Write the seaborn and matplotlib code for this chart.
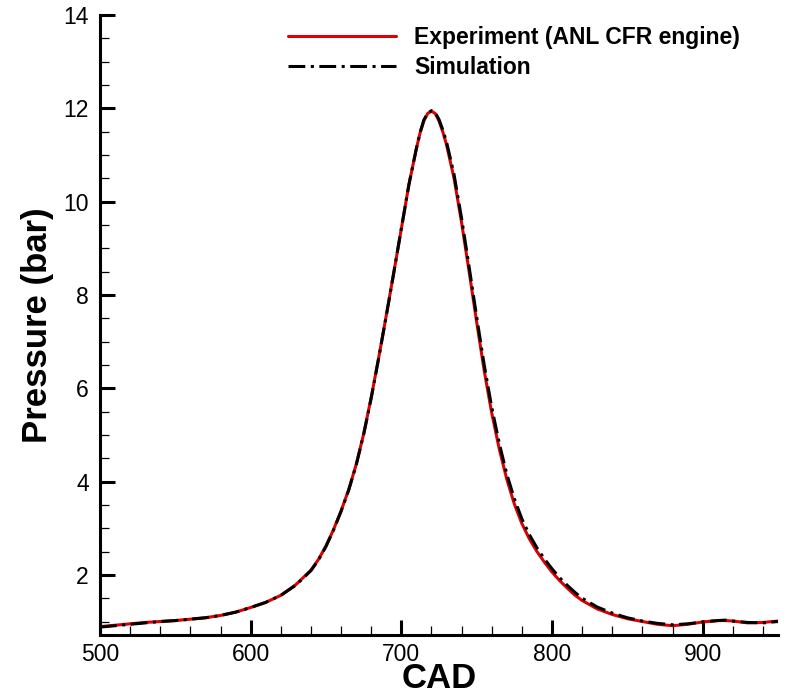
import matplotlib
matplotlib.use("Agg")
import matplotlib.pyplot as plt
import matplotlib.ticker as ticker
import seaborn as sns
import pandas as pd

sns.set_theme(style="ticks")
plt.rcParams["font.family"] = ["Liberation Sans", "DejaVu Sans"]
plt.rcParams["text.color"] = "black"
plt.rcParams["axes.labelcolor"] = "black"

# Pressure traces (CAD vs bar)
cad = [500, 510, 520, 530, 540, 550, 560, 570, 580, 590, 600, 610, 620, 630,
       640, 645, 650, 655, 660, 665, 670, 675, 680, 685, 690, 695, 700, 705,
       710, 712.5, 715, 717.5, 720, 722.5, 725, 727.5, 730, 735, 740, 745,
       750, 755, 760, 765, 770, 775, 780, 785, 790, 795, 800, 805, 810, 815,
       820, 830, 840, 850, 860, 870, 880, 890, 900, 910, 915, 920, 930, 940,
       950]
p_exp = [0.89, 0.92, 0.95, 0.98, 1.00, 1.02, 1.05, 1.08, 1.13, 1.20, 1.30,
         1.41, 1.56, 1.79, 2.10, 2.33, 2.62, 2.97, 3.37, 3.82, 4.36, 5.02,
         5.80, 6.66, 7.56, 8.48, 9.42, 10.36, 11.14, 11.48, 11.74, 11.89,
         11.94, 11.89, 11.73, 11.50, 11.22, 10.50, 9.55, 8.50, 7.42, 6.38,
         5.47, 4.70, 4.05, 3.52, 3.10, 2.77, 2.50, 2.27, 2.06, 1.88, 1.72,
         1.57, 1.45, 1.27, 1.15, 1.06, 1.00, 0.94, 0.91, 0.94, 0.99, 1.02,
         1.02, 1.01, 0.97, 0.98, 1.01]
p_sim = [0.88, 0.91, 0.94, 0.97, 1.00, 1.02, 1.05, 1.08, 1.13, 1.20, 1.30,
         1.41, 1.56, 1.78, 2.09, 2.32, 2.61, 2.96, 3.36, 3.81, 4.35, 5.01,
         5.79, 6.65, 7.55, 8.48, 9.42, 10.36, 11.14, 11.49, 11.75, 11.90,
         11.95, 11.91, 11.76, 11.54, 11.28, 10.58, 9.64, 8.60, 7.53, 6.50,
         5.59, 4.82, 4.16, 3.63, 3.20, 2.86, 2.58, 2.34, 2.13, 1.94, 1.78,
         1.63, 1.50, 1.31, 1.18, 1.08, 1.01, 0.96, 0.93, 0.95, 0.99, 1.02,
         1.03, 1.01, 0.98, 0.97, 1.00]

df_exp = pd.DataFrame({"CAD": cad, "Pressure": p_exp})
df_sim = pd.DataFrame({"CAD": cad, "Pressure": p_sim})

fig = plt.figure(figsize=(7.88, 6.96), dpi=100)
ax = fig.add_axes([0.1269, 0.0876, 0.8604, 0.8908])

sns.lineplot(data=df_exp, x="CAD", y="Pressure", color="#dd0000",
             linewidth=2.2, sort=False, ax=ax,
             label="Experiment (ANL CFR engine)")
sns.lineplot(data=df_sim, x="CAD", y="Pressure", color="black",
             linewidth=2.2, sort=False, ax=ax, label="Simulation")
ax.lines[1].set_dashes((5.5, 1.8, 1, 1.8))

ax.set_xlim(500, 950)
ax.set_ylim(0.71, 14)
ax.xaxis.set_major_locator(ticker.MultipleLocator(100))
ax.xaxis.set_minor_locator(ticker.MultipleLocator(20))
ax.yaxis.set_major_locator(ticker.MultipleLocator(2))
ax.yaxis.set_minor_locator(ticker.MultipleLocator(0.5))

sns.despine(ax=ax)
for side in ["left", "bottom"]:
    ax.spines[side].set_linewidth(2.2)
    ax.spines[side].set_color("black")
ax.tick_params(which="major", direction="in", length=10.8, width=2.2,
               labelsize=16.5, color="black", labelcolor="black")
ax.tick_params(which="minor", direction="in", length=6.5, width=0.9,
               color="black")
ax.tick_params(axis="y", which="major", pad=8)
ax.tick_params(axis="x", which="major", pad=6)

ax.set_xlabel("CAD", fontsize=25, fontweight="bold", labelpad=-3)
ax.set_ylabel("Pressure (bar)", fontsize=25, fontweight="bold", labelpad=7)

ax.legend(loc="upper left", bbox_to_anchor=(288 / 788, 1 - 26 / 696),
          bbox_transform=fig.transFigure, frameon=False, borderpad=0,
          borderaxespad=0, handlelength=4.7, handletextpad=0.8,
          labelspacing=0.3, prop={"weight": "bold", "size": 16.5})

fig.savefig("out.png", dpi=100)
